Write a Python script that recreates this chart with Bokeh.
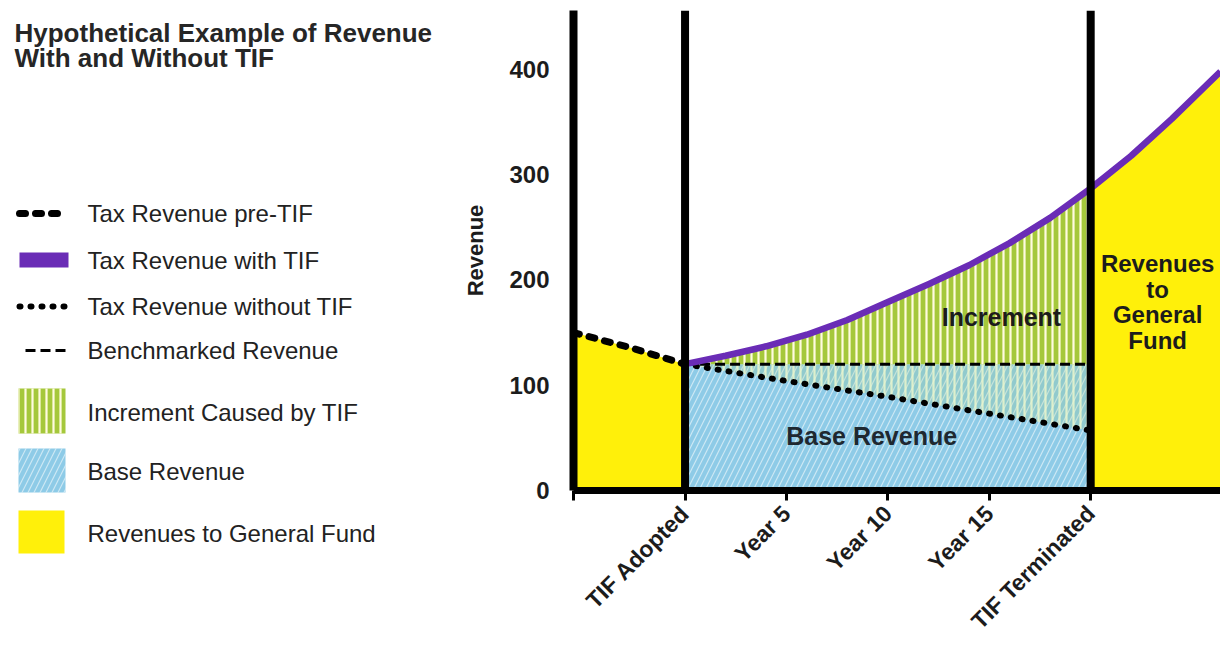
import math
from bokeh.plotting import figure
from bokeh.layouts import row
from bokeh.models import Range1d, FixedTicker, Span
from bokeh.core.properties import value
from bokeh.embed import file_html
from bokeh.resources import INLINE

# ---------------- data ----------------
pre_years = [-5.5, -2.75, 0]
pre_revenue = [150, 136, 120]

tif_years = [0, 2, 4, 6, 8, 10, 12, 14, 16, 18, 20, 22, 24, 26.4]
tif_revenue = [120, 128, 137, 148, 162, 179, 196, 214, 235, 259, 287, 318, 353, 398]

no_tif_years = [0, 5, 10, 15, 20]
no_tif_revenue = [120, 104, 89, 73, 57]

benchmark_years = [0, 20]
benchmark_revenue = [120, 120]

event_years = [0, 20]

x_ticks = [-5.5, 0, 5, 10, 15, 20]
x_tick_labels = ["", "TIF Adopted", "Year 5", "Year 10", "Year 15", "TIF Terminated"]
y_ticks = [0, 100, 200, 300, 400]

title_lines = ["Hypothetical Example of Revenue", "With and Without TIF"]
legend_labels = ["Tax Revenue pre-TIF", "Tax Revenue with TIF", "Tax Revenue without TIF",
                 "Benchmarked Revenue", "Increment Caused by TIF", "Base Revenue",
                 "Revenues to General Fund"]

FONT = value("Liberation Sans")
YELLOW = "#fff00a"
BLUE = "#8ecbe7"
GREEN = "#a5c83b"
PURPLE = "#6a2cb6"
INK = "#1c1c1c"

# ---------------- left panel: title + legend ----------------
L = figure(width=460, height=646, x_range=Range1d(0, 460), y_range=Range1d(646, 0),
           output_backend="svg", toolbar_location=None, min_border=0)
L.frame_align = False
L.axis.visible = False
L.grid.visible = False
L.outline_line_color = None

L.text(x=[14, 14], y=[32, 57], text=title_lines, text_font=FONT, text_font_style="bold",
       text_font_size="26px", text_color="#262626", text_baseline="alphabetic")

leg_y = [213, 260, 306, 350, 412, 471, 533]
L.text(x=[87] * 7, y=leg_y, text=legend_labels, text_font=FONT, text_font_size="24px",
       text_color="#222222", text_baseline="middle")

# legend swatches
L.line(x=[19, 66], y=[213, 213], line_width=7, line_color="black", line_dash="6 10", line_cap="round")
L.quad(left=[19], right=[68], top=[252], bottom=[267], fill_color=PURPLE, line_color=None)
L.line(x=[19, 68], y=[306, 306], line_width=6, line_color="black", line_dash="1 10", line_cap="round")
L.line(x=[25, 66], y=[350, 350], line_width=3, line_color="black", line_dash="10 5")
L.quad(left=[18], right=[65], top=[388], bottom=[433], fill_color=GREEN, line_color=None,
       hatch_pattern="|", hatch_color="#fffbe0", hatch_weight=2.2, hatch_scale=7)
L.quad(left=[18], right=[65], top=[448], bottom=[492], fill_color=BLUE, line_color=None,
       hatch_pattern="/", hatch_color="white", hatch_alpha=0.55, hatch_weight=1.2, hatch_scale=12)
L.quad(left=[18], right=[64], top=[510], bottom=[553], fill_color=YELLOW, line_color=None)

# ---------------- right panel: chart ----------------
p = figure(width=760, height=646, x_range=Range1d(-5.5, 26.4), y_range=Range1d(0, 456),
           output_backend="svg", toolbar_location=None,
           min_border_left=110, min_border_right=0, min_border_top=10, min_border_bottom=154)
p.frame_align = False
p.grid.visible = False
p.outline_line_color = None

n20 = tif_years.index(20)
bench = benchmark_revenue[0]

# revenues to general fund (yellow)
p.varea(x=pre_years, y1=[0] * len(pre_years), y2=pre_revenue, fill_color=YELLOW)
p.varea(x=tif_years[n20:], y1=[0] * len(tif_years[n20:]), y2=tif_revenue[n20:], fill_color=YELLOW)

# base revenue (blue)
p.varea(x=benchmark_years, y1=[0, 0], y2=benchmark_revenue, fill_color=BLUE,
        hatch_pattern="/", hatch_color="white", hatch_alpha=0.55, hatch_weight=1.2, hatch_scale=12)
# increment overlapping base revenue (between no-TIF line and benchmark)
p.varea(x=no_tif_years, y1=no_tif_revenue, y2=[bench] * len(no_tif_years), fill_color=GREEN,
        fill_alpha=0.15, hatch_pattern="|", hatch_color="#eaf6cc", hatch_alpha=0.85,
        hatch_weight=2.2, hatch_scale=7)
# increment above benchmark (green)
p.varea(x=tif_years[:n20 + 1], y1=[bench] * (n20 + 1), y2=tif_revenue[:n20 + 1], fill_color=GREEN,
        hatch_pattern="|", hatch_color="#fffbe0", hatch_weight=2.2, hatch_scale=7)

# lines
p.line(benchmark_years, benchmark_revenue, line_width=3, line_color="black", line_dash="10 5")
p.line(no_tif_years, no_tif_revenue, line_width=6, line_color="black", line_dash="1 10", line_cap="round")
p.line(pre_years, pre_revenue, line_width=7, line_color="black", line_dash="6 10", line_cap="round")
p.line(tif_years, tif_revenue, line_width=6.5, line_color=PURPLE, line_join="round")

for yr in event_years:
    p.add_layout(Span(location=yr, dimension="height", line_color="black", line_width=8))

# in-chart labels
p.text(x=[15.6], y=[165], text=["Increment"], text_font=FONT, text_font_style="bold",
       text_font_size="25px", text_color=INK, text_align="center", text_baseline="middle")
p.text(x=[9.2], y=[52], text=["Base Revenue"], text_font=FONT, text_font_style="bold",
       text_font_size="25px", text_color="#1e2830", text_align="center", text_baseline="middle")
p.text(x=[23.3], y=[179], text=["Revenues\nto\nGeneral\nFund"], text_font=FONT,
       text_font_style="bold", text_font_size="24px", text_color=INK, text_align="center",
       text_baseline="middle", text_line_height=0.95)

# axes
ya = p.yaxis[0]
ya.ticker = FixedTicker(ticks=y_ticks)
ya.axis_line_width = 8
ya.axis_line_color = "black"
ya.major_tick_line_color = None
ya.minor_tick_line_color = None
ya.major_label_text_font = "Liberation Sans"
ya.major_label_text_font_style = "bold"
ya.major_label_text_font_size = "24px"
ya.major_label_text_color = INK
ya.major_label_standoff = 18
ya.axis_label = "Revenue"
ya.axis_label_text_font = "Liberation Sans"
ya.axis_label_text_font_style = "bold"
ya.axis_label_text_font_size = "22px"
ya.axis_label_text_color = INK
ya.axis_label_standoff = 18

xa = p.xaxis[0]
xa.ticker = FixedTicker(ticks=x_ticks)
xa.major_label_overrides = {t: lab for t, lab in zip(x_ticks, x_tick_labels)}
xa.major_label_orientation = math.pi / 4
xa.axis_line_width = 7
xa.axis_line_color = "black"
xa.major_tick_in = 0
xa.major_tick_out = 10
xa.major_tick_line_width = 3
xa.minor_tick_line_color = None
xa.major_label_text_font = "Liberation Sans"
xa.major_label_text_font_style = "bold"
xa.major_label_text_font_size = "23px"
xa.major_label_text_color = INK
xa.major_label_standoff = 9

layout = row(L, p)
open("out.html", "w").write(file_html(layout, INLINE))
